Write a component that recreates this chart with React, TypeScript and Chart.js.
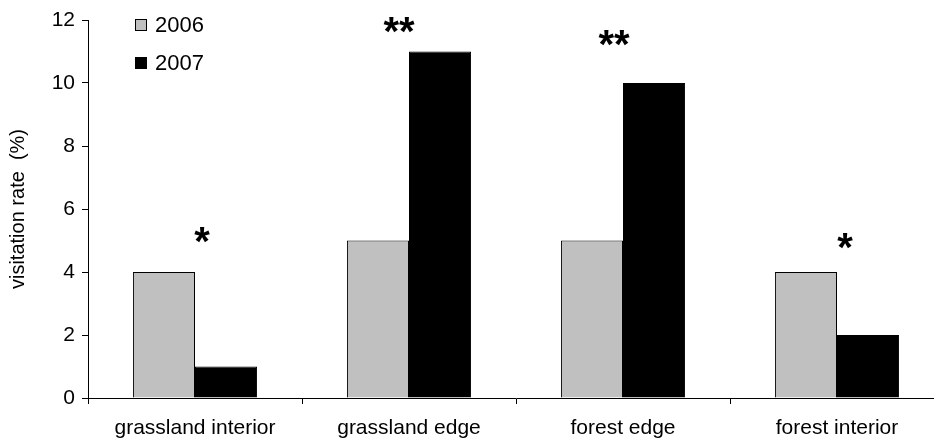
import React, { useEffect, useRef } from "react";
import { Chart, registerables } from "chart.js";

Chart.register(...registerables);

const categories = ["grassland interior", "grassland edge", "forest edge", "forest interior"];
const series2006 = [4, 5, 5, 4];
const series2007 = [1, 11, 10, 2];
const seriesLabels = ["2006", "2007"];
const significance = ["*", "**", "**", "*"];
const significanceY = [5.27, 11.94, 11.52, 5.08];
const yTitle = "visitation rate  (%)";

const FONT = "'Liberation Sans', Arial, sans-serif";
const COLORS = ["#c0c0c0", "#000000"];
const SIG_DX = [7, -10, -9, 8];

const overlayPlugin = {
  id: "overlay",
  afterDraw(chart: any) {
    const ctx = chart.ctx;
    const area = chart.chartArea;
    const xs = chart.scales.x;
    const ys = chart.scales.y;
    ctx.save();
    // asterisks
    const starSize = 40;
    ctx.font = `bold ${starSize}px ${FONT}`;
    ctx.fillStyle = "#000";
    ctx.textAlign = "center";
    ctx.textBaseline = "alphabetic";
    significance.forEach((s, i) => {
      const x = xs.getPixelForValue(i) + SIG_DX[i];
      const y = ys.getPixelForValue(significanceY[i]);
      ctx.fillText(s, x, y + starSize * 0.57);
    });
    // legend
    ctx.font = `22px ${FONT}`;
    ctx.textAlign = "left";
    ctx.textBaseline = "middle";
    chart.data.datasets.forEach((ds: any, i: number) => {
      const bx = area.left + 47;
      const by = area.top - 1 + i * 38;
      ctx.fillStyle = ds.backgroundColor;
      ctx.fillRect(bx, by, 12, 12);
      ctx.strokeStyle = "#000";
      ctx.lineWidth = 1;
      ctx.strokeRect(bx + 0.5, by + 0.5, 11, 11);
      ctx.fillStyle = "#000";
      ctx.fillText(ds.label, bx + 20, by + 7);
    });
    ctx.restore();
  },
};

export default function App() {
  const ref = useRef<HTMLCanvasElement>(null);
  useEffect(() => {
    if (!ref.current) return;
    const chart = new Chart(ref.current, {
      type: "bar",
      data: {
        labels: categories,
        datasets: [
          {
            label: seriesLabels[0],
            data: series2006,
            backgroundColor: COLORS[0],
            borderColor: "#000",
            borderWidth: 1,
            categoryPercentage: 0.58,
            barPercentage: 1,
          },
          {
            label: seriesLabels[1],
            data: series2007,
            backgroundColor: COLORS[1],
            borderColor: "#000",
            borderWidth: 1,
            categoryPercentage: 0.58,
            barPercentage: 1,
          },
        ],
      },
      options: {
        responsive: false,
        animation: false,
        layout: { padding: { left: 0, top: 20, right: 16, bottom: 0 } },
        plugins: {
          legend: { display: false },
          tooltip: { enabled: false },
        },
        scales: {
          x: {
            offset: true,
            afterFit(scale: any) {
              scale.height = 46;
            },
            grid: {
              offset: true,
              drawOnChartArea: false,
              drawTicks: true,
              tickLength: 6,
              color: "#000",
              lineWidth: 1,
            },
            border: { color: "#000", width: 1 },
            ticks: {
              color: "#000",
              font: { family: FONT, size: 21 },
              maxRotation: 0,
              autoSkip: false,
              padding: 12,
            },
          },
          y: {
            min: 0,
            max: 12,
            afterFit(scale: any) {
              scale.width = 88;
            },
            grid: {
              drawOnChartArea: false,
              drawTicks: true,
              tickLength: 6,
              color: "#000",
              lineWidth: 1,
            },
            border: { color: "#000", width: 1 },
            ticks: {
              stepSize: 2,
              color: "#000",
              font: { family: FONT, size: 21 },
              padding: 7,
            },
            title: {
              display: true,
              text: yTitle,
              color: "#000",
              font: { family: FONT, size: 20 },
              padding: { top: 6, bottom: 0 },
            },
          },
        },
      },
      plugins: [overlayPlugin],
    });
    return () => chart.destroy();
  }, []);
  return (
    <div style={{ position: "fixed", left: 0, top: 0, width: 934, height: 444, overflow: "hidden", background: "#fff" }}>
      <canvas ref={ref} width={960} height={444} style={{ display: "block" }} />
    </div>
  );
}
